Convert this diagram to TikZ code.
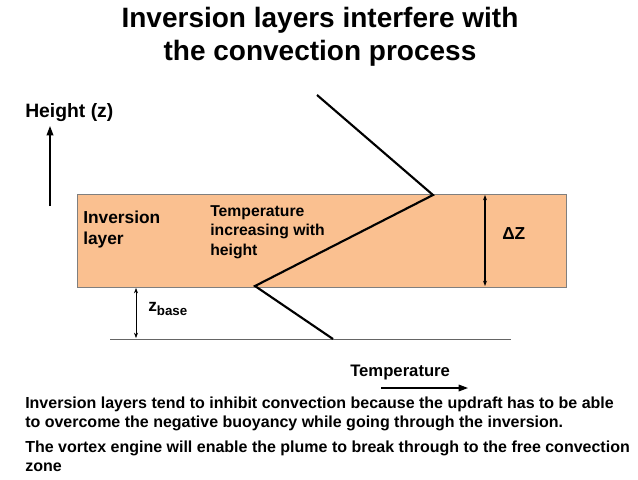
\documentclass[tikz,border=0pt]{standalone}
\usepackage{fontspec}
\setmainfont{Liberation Sans}
\usetikzlibrary{arrows.meta}
\definecolor{layerfill}{HTML}{FAC090}
\definecolor{layeredge}{HTML}{7F7F7F}
\tikzset{
  txt/.style={inner sep=0pt, align=left, anchor=west},
  dimline/.style={{Stealth[length=4pt,width=3pt]}-{Stealth[length=4pt,width=3pt]}},
  axisarrow/.style={-{Triangle[length=7pt,width=5pt]}, line width=1.1pt},
  profile/.style={line width=1.6pt, line join=miter},
}
\begin{document}
\begin{tikzpicture}[x=0.75pt,y=-0.75pt]
\useasboundingbox (0,0) rectangle (638,479);
% title
\node (title) [inner sep=0pt, align=center, font=\fontsize{21}{24.75}\selectfont\bfseries] at (320,37)
{Inversion layers interfere with\\the convection process};
% layer and ground
\draw[fill=layerfill, draw=layeredge, thin] (77,194) rectangle (566,287);
\coordinate (gl) at (110,339);
\coordinate (gr) at (511,339);
\draw[layeredge!80!black, thin] (gl) -- (gr);
% temperature profile
\coordinate (p0) at (317,95);
\coordinate (p1) at (433,195);
\coordinate (p2) at (255,286);
\coordinate (p3) at (333,339);
\draw[profile] (p0) -- (p1) -- (p2) -- (p3);
% axes
\coordinate (hb) at (50,206);
\coordinate (ht) at (50,126);
\draw[axisarrow] (hb) -- (ht);
\node (height) [txt, font=\fontsize{14.5}{17}\selectfont\bfseries] at (25,113) {Height (z)};
\node (temp) [txt, font=\fontsize{12.5}{15}\selectfont\bfseries] at (350,372) {Temperature};
\coordinate (tl) at (381,388);
\coordinate (tr) at (468,388);
\draw[axisarrow, line width=0.9pt] (tl) -- (tr);
% labels in the layer
\node (inv) [txt, font=\fontsize{13}{15.75}\selectfont\bfseries] at (83,230) {Inversion\\layer};
\node (incr) [txt, font=\fontsize{11.8}{14.6}\selectfont\bfseries] at (210,232) {Temperature\\increasing with\\height};
% dimensions
\coordinate (dzt) at (485,195);
\coordinate (dzb) at (485,286);
\draw[dimline, line width=1.1pt] (dzt) -- (dzb);
\node (dz) [txt, font=\fontsize{13}{15}\selectfont\bfseries] at (502,234) {ΔZ};
\coordinate (zbt) at (136,288);
\coordinate (zbb) at (136,338);
\draw[dimline, thin] (zbt) -- (zbb);
\node (zbase) [txt, font=\fontsize{13}{15}\selectfont\bfseries] at (148,309) {z\raisebox{-0.45ex}{\fontsize{10}{12}\selectfont base}};
% notes
\node (note1) [txt, font=\fontsize{12}{14.25}\selectfont\bfseries] at (25,413.5)
{Inversion layers tend to inhibit convection because the updraft has to be able\\to overcome the negative buoyancy while going through the inversion.};
\node (note2) [txt, font=\fontsize{12}{14.25}\selectfont\bfseries] at (25,456.5)
{The vortex engine will enable the plume to break through to the free convection\\zone};
\end{tikzpicture}
\end{document}
